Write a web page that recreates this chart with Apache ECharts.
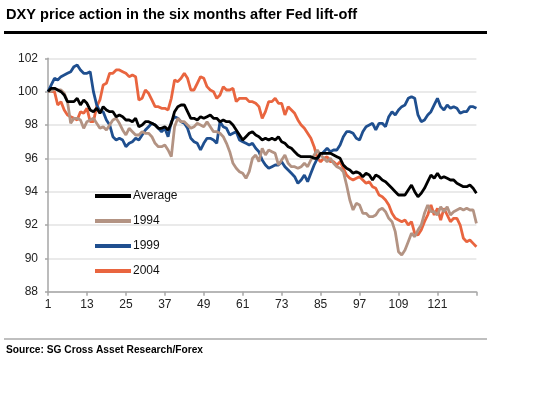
<!DOCTYPE html>
<html>
<head>
<meta charset="utf-8">
<script src="https://cdn.jsdelivr.net/npm/echarts@6/dist/echarts.min.js"></script>
<style>
html,body{margin:0;padding:0;background:#fff;}
#c{width:539px;height:407px;}
</style>
</head>
<body>
<div id="c"></div>
<script>
var titleText = 'DXY price action in the six months after Fed lift-off';
var sourceText = 'Source: SG Cross Asset Research/Forex';
var seriesNames = ['Average', '1994', '1999', '2004'];
var yTicks = [88, 90, 92, 94, 96, 98, 100, 102];

var days = [];
for (var d = 1; d <= 133; d++) days.push(String(d));

var average = [
100.0,100.2,100.2,100.1,100.0,99.8,99.4,99.4,99.4,99.6,99.2,99.5,99.3,98.9,98.8,99.0,98.7,99.1,98.9,98.8,
98.8,98.5,98.6,98.5,98.3,98.3,98.2,98.4,97.9,98.0,98.2,98.2,98.1,98.0,97.8,97.8,97.9,97.7,98.1,98.8,
99.1,99.2,99.2,98.8,98.4,98.4,98.3,98.5,98.4,98.5,98.6,98.4,98.4,98.2,98.3,98.2,98.2,98.0,97.7,97.4,
97.1,97.3,97.5,97.6,97.4,97.3,97.1,97.2,97.1,97.2,97.1,97.3,97.0,96.9,96.7,96.6,96.4,96.2,96.1,96.1,
96.1,96.1,96.0,96.0,96.3,96.3,96.3,96.3,96.2,96.1,96.0,95.6,95.4,95.3,95.1,95.2,95.1,94.9,95.1,95.0,
94.7,95.0,94.9,94.7,94.6,94.4,94.2,94.0,93.8,93.8,93.8,94.1,94.4,94.0,93.7,93.9,94.2,94.6,95.0,94.8,
95.1,94.8,94.9,94.8,94.7,94.7,94.5,94.4,94.3,94.3,94.4,94.2,93.9];

var y1994 = [
100.0,100.0,100.2,100.1,100.1,99.9,99.4,98.1,98.4,98.4,98.3,97.8,98.2,98.3,98.4,98.1,97.8,97.9,97.7,98.0,
98.3,98.4,98.1,97.7,97.4,97.8,97.6,97.4,97.4,97.6,97.5,97.5,97.3,96.9,96.7,96.7,96.8,96.5,96.1,97.9,
98.4,98.2,98.2,98.0,97.8,97.9,98.1,98.0,97.9,98.2,97.9,97.6,97.6,97.5,97.3,96.9,96.4,95.7,95.4,95.2,
95.1,94.8,95.2,96.0,96.2,95.8,96.6,96.2,96.5,96.4,96.3,95.6,95.9,96.2,95.7,95.5,95.5,95.4,95.5,95.7,
95.5,95.9,96.2,96.5,96.2,96.0,95.8,96.0,95.7,95.5,95.4,95.2,94.4,93.5,92.9,93.3,93.2,92.7,92.7,92.5,
92.5,92.6,92.9,93.0,92.8,92.4,92.2,91.6,90.4,90.2,90.5,91.0,91.5,91.3,91.7,92.0,92.7,93.2,92.8,92.8,
92.6,93.1,92.8,93.1,92.6,92.8,92.9,93.0,92.9,93.0,92.9,92.9,92.1];

var y1999 = [
100.0,100.4,100.8,100.7,100.9,101.0,101.1,101.2,101.5,101.6,101.3,101.1,101.1,101.2,100.0,99.2,98.8,98.8,98.3,98.0,
97.3,97.1,97.2,97.1,96.7,96.9,97.0,97.2,97.1,97.4,97.7,97.9,98.1,98.0,97.8,97.6,97.8,97.3,98.2,98.5,
98.4,98.2,98.1,97.8,97.2,97.0,96.9,96.5,96.9,97.2,97.2,97.1,96.9,98.2,97.9,97.8,97.4,97.5,97.6,97.1,
97.0,96.9,96.8,96.9,96.6,96.4,95.9,95.6,95.4,95.5,95.6,95.6,95.8,95.5,95.3,95.1,94.9,94.5,94.7,95.0,
94.6,95.1,95.6,96.0,96.2,96.4,96.6,96.4,96.5,96.5,96.8,97.3,97.6,97.6,97.5,97.2,97.1,97.6,97.9,98.0,
98.1,97.7,98.1,98.1,97.9,98.5,98.8,98.6,98.9,99.1,99.2,99.6,99.7,99.6,98.6,98.2,98.3,98.6,98.8,99.2,
99.6,99.1,98.9,99.2,99.0,99.1,99.0,98.7,98.8,98.8,99.1,99.1,99.0];

var y2004 = [
100.0,100.0,100.0,99.2,99.4,98.9,98.6,98.5,98.4,98.3,98.8,98.7,99.0,98.2,98.2,99.1,99.5,100.4,100.5,101.1,
101.1,101.3,101.3,101.2,101.1,100.9,101.0,100.9,99.5,99.6,100.1,99.9,99.5,99.1,99.1,99.0,99.0,98.9,99.6,100.7,
100.6,100.8,101.1,100.8,100.1,100.1,100.5,100.9,100.8,100.3,100.1,100.0,99.6,99.8,100.3,100.1,100.1,100.2,99.4,99.6,
99.6,99.6,99.4,99.4,99.3,99.1,98.4,98.8,99.4,99.4,99.6,99.3,99.3,98.6,99.1,98.9,98.7,98.3,98.0,97.8,
97.5,97.2,96.7,96.0,95.8,96.0,96.1,95.8,95.8,95.6,95.8,95.4,95.0,94.8,94.7,94.8,94.9,94.7,94.5,94.6,
94.3,94.2,93.8,93.7,93.5,93.2,92.7,92.4,92.3,92.2,92.3,92.0,92.2,91.5,91.4,91.7,92.2,92.6,93.2,92.6,
93.0,92.3,93.0,92.6,92.2,92.4,92.4,92.0,91.2,91.0,91.1,90.9,90.7];

var colors = ['#000000', '#b39383', '#1f4f8f', '#e9653f'];
var dataSets = [average, y1994, y1999, y2004];

var font = '"Liberation Sans", Arial, Helvetica, sans-serif';
var chart = echarts.init(document.getElementById('c'), null, {renderer: 'canvas'});

var series = seriesNames.map(function (n, k) {
  return {
    name: n,
    type: 'line',
    data: dataSets[k],
    showSymbol: false,
    symbol: 'none',
    smooth: false,
    z: 10 - k,
    lineStyle: {color: colors[k], width: 2.8},
    itemStyle: {color: colors[k]}
  };
});

chart.setOption({
  animation: false,
  backgroundColor: '#ffffff',
  grid: {left: 48, top: 58.3, width: 428.4, height: 233.4, containLabel: false},
  legend: {
    orient: 'vertical',
    left: 90,
    top: 184,
    itemWidth: 36,
    itemHeight: 4,
    itemGap: 11,
    icon: 'rect',
    data: seriesNames,
    textStyle: {fontFamily: font, fontSize: 12, color: '#111', lineHeight: 14, padding: [0, 0, 0, -3]},
    selectedMode: false
  },
  xAxis: {
    type: 'category',
    data: days,
    boundaryGap: false,
    axisLine: {show: true, lineStyle: {color: '#a6a6a6', width: 1.5}},
    axisTick: {show: true, interval: 11, length: 4, lineStyle: {color: '#a6a6a6', width: 1.5}},
    axisLabel: {
      interval: 11,
      margin: 7,
      fontFamily: font,
      fontSize: 12,
      color: '#222',
      formatter: function (v) { return v === '133' ? '' : v; }
    },
    splitLine: {show: false}
  },
  yAxis: {
    type: 'value',
    min: yTicks[0],
    max: yTicks[yTicks.length - 1],
    interval: 2,
    axisLine: {show: true, lineStyle: {color: '#a6a6a6', width: 1.5}},
    axisTick: {show: true, length: 3, lineStyle: {color: '#a6a6a6', width: 1.5}},
    axisLabel: {margin: 10, fontFamily: font, fontSize: 12, color: '#222'},
    splitLine: {show: true, lineStyle: {color: '#e3e3e3', width: 1.5}}
  },
  graphic: [
    {type: 'text', left: 6, top: 7, style: {text: titleText, fontFamily: font, fontSize: 14.6, fontWeight: 'bold', fill: '#000'}},
    {type: 'rect', shape: {x: 4, y: 31, width: 483, height: 3}, style: {fill: '#000'}},
    {type: 'rect', shape: {x: 4, y: 338.5, width: 483, height: 1}, style: {fill: '#808080'}},
    {type: 'text', left: 6, top: 345, style: {text: sourceText, fontFamily: font, fontSize: 10.2, fontWeight: 'bold', fill: '#000'}}
  ],
  series: series
});
</script>
</body>
</html>
